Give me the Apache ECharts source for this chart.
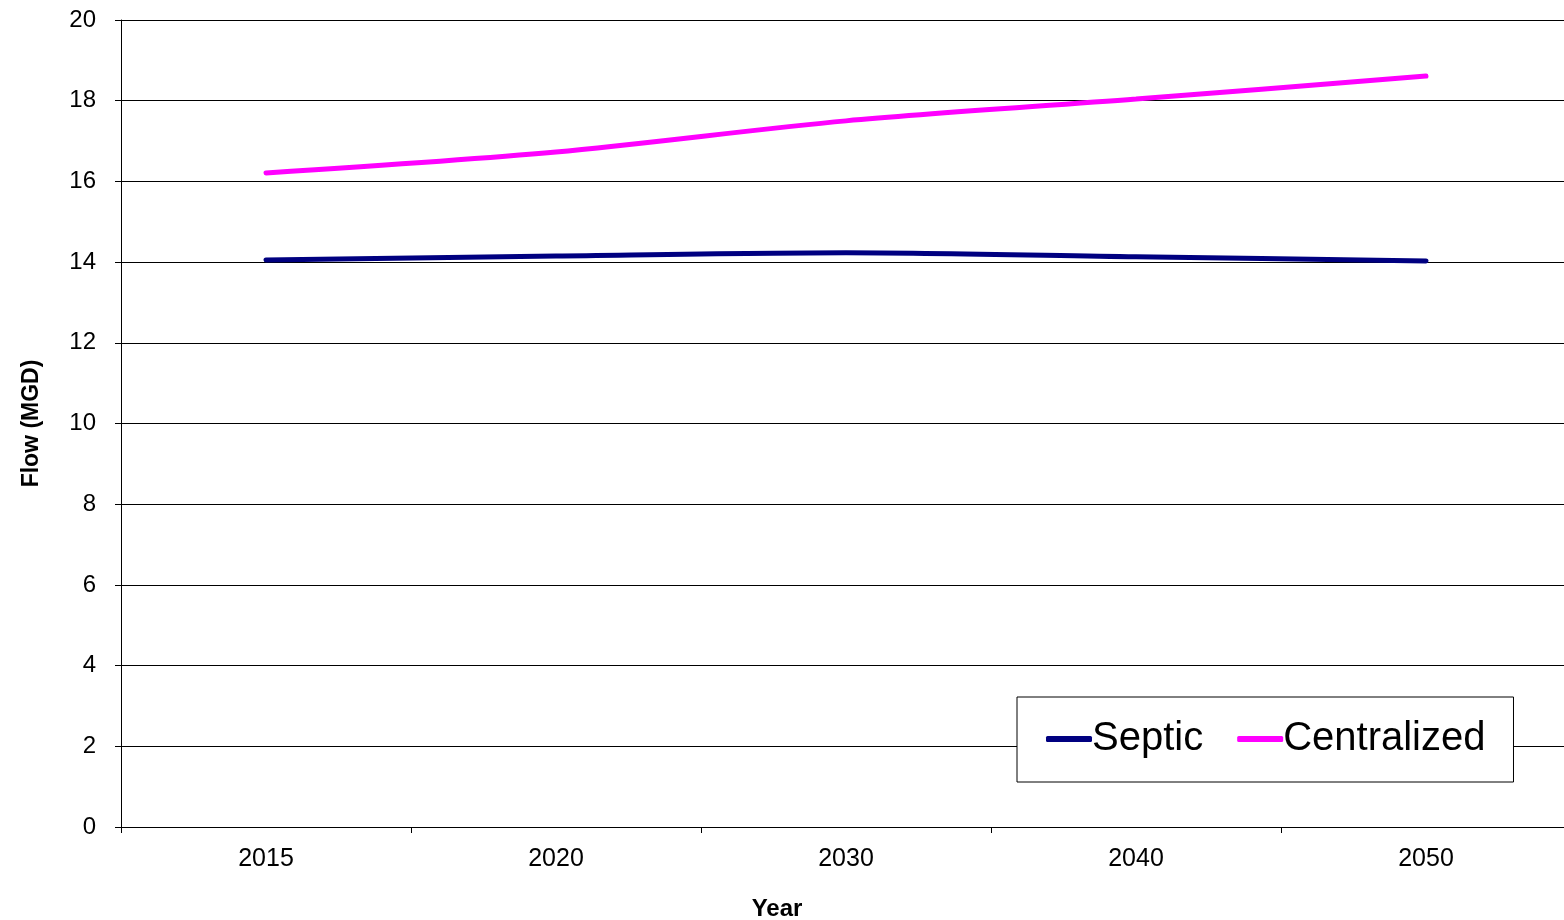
<!DOCTYPE html>
<html><head><meta charset="utf-8">
<script src="https://cdn.jsdelivr.net/npm/echarts@6/dist/echarts.min.js"></script>
<style>html,body{margin:0;padding:0;background:#fff}#c{width:1564px;height:920px}</style>
</head><body><div id="c"></div>
<script>
const years = ['2015','2020','2030','2040','2050'];
const septic = [14.05, 14.15, 14.23, 14.13, 14.03];
const centralized = [16.21, 16.73, 17.50, 18.04, 18.61];
const yTicks = {min: 0, max: 20, interval: 2};
const font = '"Liberation Sans", Arial, sans-serif';
const chart = echarts.init(document.getElementById('c'), null, {renderer: 'canvas'});
chart.setOption({
  animation: false,
  backgroundColor: '#fff',
  grid: {left: 121, top: 20, width: 1450, bottom: 93, containLabel: false, outerBoundsMode: 'none'},
  legend: {
    data: ['Septic', 'Centralized'],
    left: 1017, top: 697,
    padding: [22, 28, 23, 29],
    backgroundColor: '#fff', borderColor: '#000', borderWidth: 1,
    itemWidth: 46, itemHeight: 6, itemGap: 34,
    icon: 'roundRect',
    textStyle: {fontFamily: font, fontSize: 40, color: '#000', padding: [0,0,0,-5]}
  },
  xAxis: {
    type: 'category', data: years, boundaryGap: true,
    name: 'Year', nameLocation: 'middle', nameGap: 70,
    nameTextStyle: {fontFamily: font, fontSize: 24, fontWeight: 'bold', color: '#000', padding: [0, 0, 0, -138]},
    axisLine: {lineStyle: {color: '#000', width: 1}},
    axisTick: {show: true, length: 6, lineStyle: {color: '#000'}},
    axisLabel: {fontFamily: font, fontSize: 25, color: '#000', margin: 20},
    splitLine: {show: false}
  },
  yAxis: {
    type: 'value', min: yTicks.min, max: yTicks.max, interval: yTicks.interval,
    name: 'Flow (MGD)', nameLocation: 'middle', nameGap: 78, nameRotate: 90,
    nameTextStyle: {fontFamily: font, fontSize: 23, fontWeight: 'bold', color: '#000'},
    axisLine: {show: true, lineStyle: {color: '#000', width: 1}},
    axisTick: {show: true, length: 6, lineStyle: {color: '#000'}},
    axisLabel: {fontFamily: font, fontSize: 24, color: '#000', margin: 25},
    splitLine: {show: true, lineStyle: {color: '#000', width: 1}}
  },
  series: [
    {name: 'Septic', type: 'line', data: septic, symbol: 'none', smooth: 0.3,
     lineStyle: {color: '#000080', width: 5, cap: 'round'}, itemStyle: {color: '#000080'}},
    {name: 'Centralized', type: 'line', data: centralized, symbol: 'none', smooth: 0.3,
     lineStyle: {color: '#ff00ff', width: 5, cap: 'round'}, itemStyle: {color: '#ff00ff'}}
  ]
});
</script></body></html>
